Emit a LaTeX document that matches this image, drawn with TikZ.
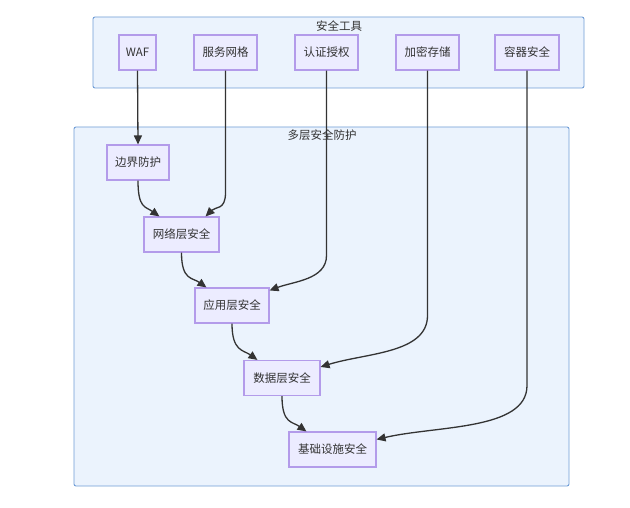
\documentclass[tikz,border=0pt]{standalone}
\usepackage{fontspec}
\setmainfont{Noto Sans CJK SC}
\usetikzlibrary{arrows.meta,calc}
\definecolor{clfill}{HTML}{EBF3FD}
\definecolor{cldraw}{HTML}{6F9DD6}
\definecolor{ndfill}{HTML}{ECECFF}
\definecolor{nddraw}{HTML}{B39BEA}
\definecolor{txt}{HTML}{333333}
\definecolor{edgec}{HTML}{333333}
\begin{document}
\begin{tikzpicture}[x=1pt,y=-1pt,
  cluster/.style={draw=cldraw,fill=clfill,line width=0.9pt,rounded corners=2pt},
  cltitle/.style={text=txt,font=\fontsize{11.5}{13}\selectfont,inner sep=0pt},
  box/.style={draw=nddraw,fill=ndfill,line width=1.1pt,minimum height=35pt,inner sep=0pt,text=txt,font=\fontsize{11.5}{13}\selectfont},
  edge/.style={draw=edgec,line width=1.3pt,-{Triangle[length=9pt,width=8pt]}}]
\useasboundingbox (0,0) rectangle (630,508);
\fill[white] (0,0) rectangle (630,508);
% clusters
\draw[cluster] (93,17) rectangle (584,88);
\node[cltitle] (t1) at (339,26) {安全工具};
\draw[cluster] (74,127) rectangle (569,486);
\node[cltitle] (t2) at (322,135) {多层安全防护};
% tool nodes
\node[box,minimum width=37pt] (waf) at (137.5,52.5) {WAF};
\node[box,minimum width=63pt] (mesh) at (225.5,52.5) {服务网格};
\node[box,minimum width=63pt] (auth) at (326.5,52.5) {认证授权};
\node[box,minimum width=63pt] (enc) at (427.5,52.5) {加密存储};
\node[box,minimum width=64pt] (cont) at (527,52.5) {容器安全};
% layer nodes
\node[box,minimum width=62pt] (border) at (138,162.5) {边界防护};
\node[box,minimum width=75pt] (net) at (181.5,234.5) {网络层安全};
\node[box,minimum width=74pt] (app) at (232,305.5) {应用层安全};
\node[box,minimum width=76pt] (data) at (282,378) {数据层安全};
\node[box,minimum width=87pt] (infra) at (332.5,449.5) {基础设施安全};
% edges
\draw[edge] (waf.south) -- (border.north);
\draw[edge] (border.south) .. controls +(0,28) and +(-14,-10) .. ($(net.north west)+(16,0)$);
\draw[edge] (net.south) .. controls +(0,28) and +(-14,-10) .. ($(app.north west)+(12,0)$);
\draw[edge] (app.south) .. controls +(0,28) and +(-14,-10) .. ($(data.north west)+(14,0)$);
\draw[edge] (data.south) .. controls +(0,28) and +(-14,-10) .. ($(infra.north west)+(18,0)$);
\draw[edge] (mesh.south) -- ($(mesh.south)+(0,122)$) .. controls +(0,18) and +(10,-10) .. ($(net.north east)+(-14,0)$);
\draw[edge] (auth.south) -- ($(auth.south)+(0,185)$) .. controls +(0,24) and +(24,-9) .. ($(app.north east)+(0,3)$);
\draw[edge] (enc.south) -- ($(enc.south)+(0,245)$) .. controls +(0,38) and +(45,-14) .. ($(data.north east)+(0,7)$);
\draw[edge] (cont.south) -- ($(cont.south)+(0,315)$) .. controls +(0,45) and +(60,-14) .. ($(infra.north east)+(0,8)$);
\end{tikzpicture}
\end{document}
